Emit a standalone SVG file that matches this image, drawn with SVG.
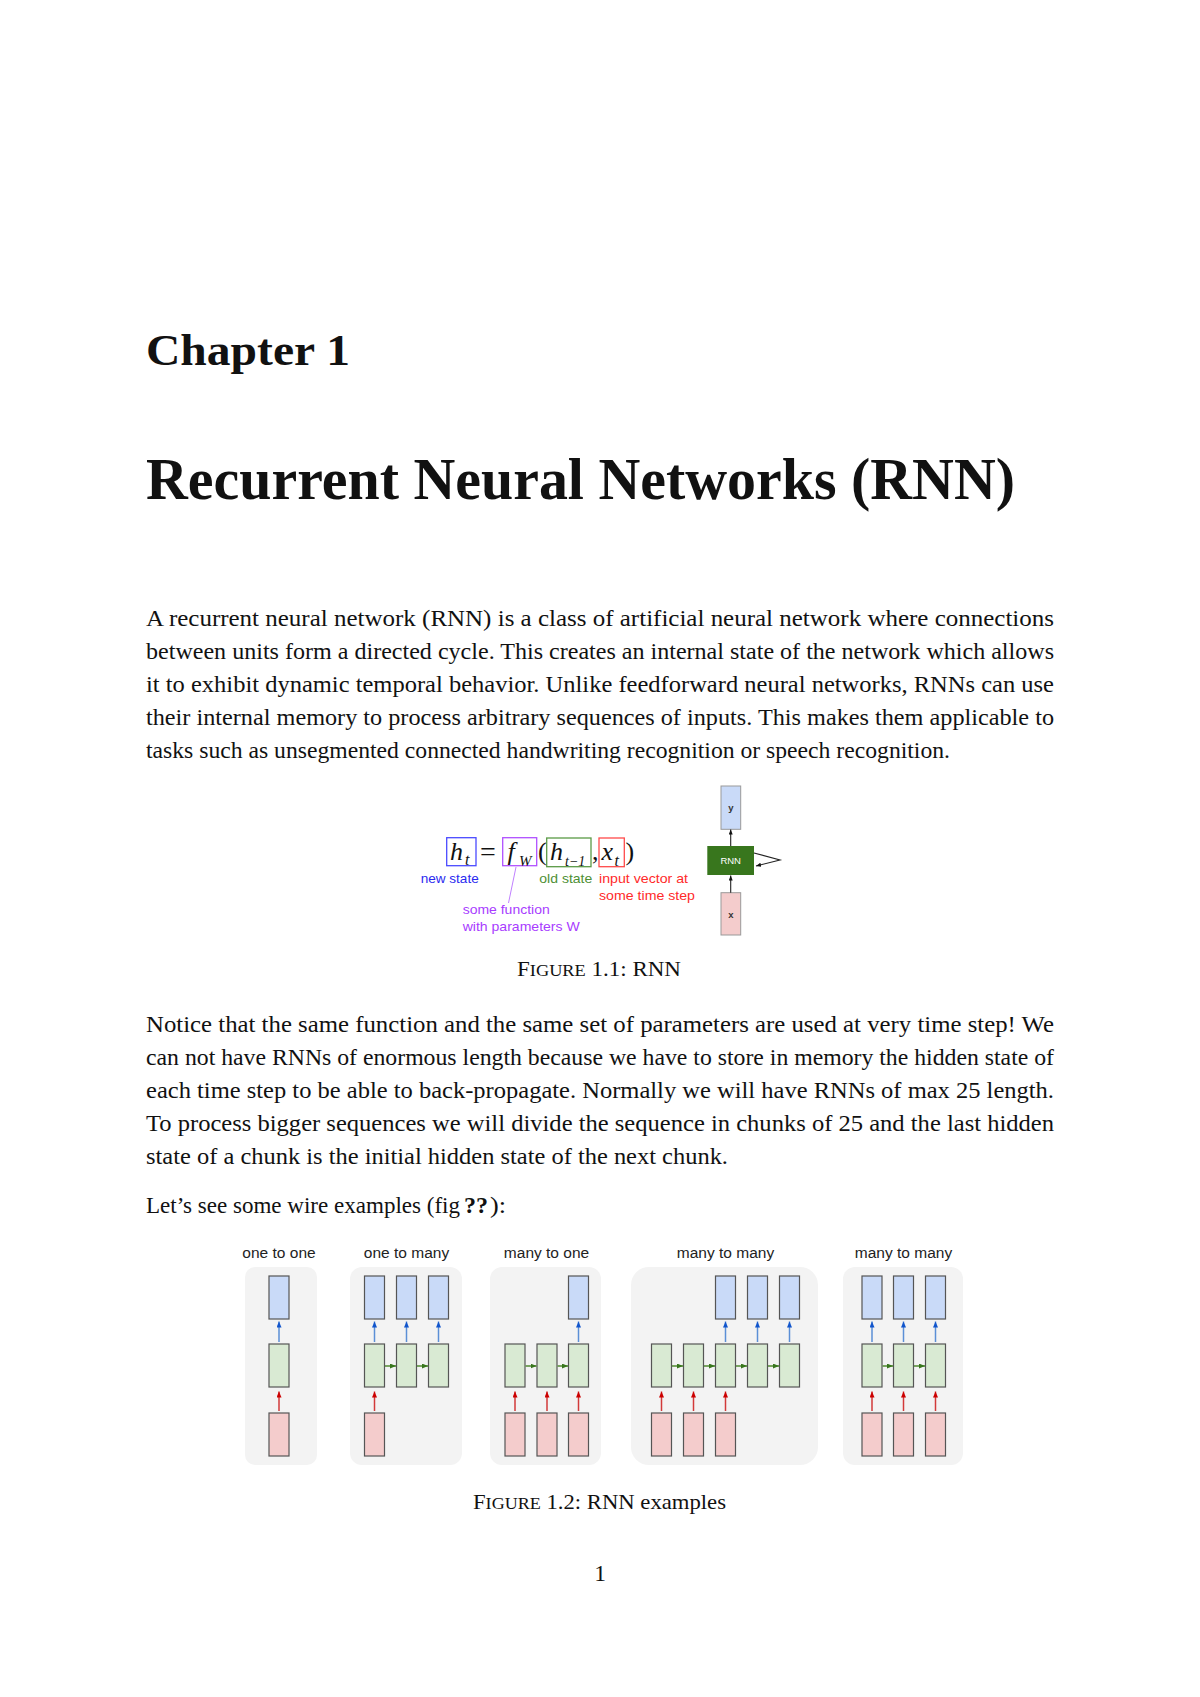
<svg xmlns="http://www.w3.org/2000/svg" width="1200" height="1697" viewBox="0 0 1200 1697">
<defs>
<style>
.body{font-family:"Liberation Serif","Times New Roman",serif;font-size:23.5px;fill:#111}
.head{font-family:"Liberation Serif","Times New Roman",serif;font-weight:bold;fill:#111}
.cap{font-family:"Liberation Serif","Times New Roman",serif;font-size:22px;fill:#111}
.math{font-family:"Liberation Serif","Times New Roman",serif;font-style:italic;fill:#111}
.mathr{font-family:"Liberation Serif","Times New Roman",serif;fill:#111}
.lbl{font-family:"Liberation Sans",Arial,sans-serif;font-size:13.5px}
.plbl{font-family:"Liberation Sans",Arial,sans-serif;font-size:15.5px;fill:#222;text-anchor:middle}
.panel{fill:#f3f3f3}
.bx{fill:#c9daf8;stroke:#555;stroke-width:1.2}
.gx{fill:#d9ead3;stroke:#555;stroke-width:1.2}
.rx{fill:#f4cccc;stroke:#555;stroke-width:1.2}
.ba{stroke:#5b8fd6;stroke-width:1.5;fill:none;marker-end:url(#hb)}
.ra{stroke:#d23a3a;stroke-width:1.5;fill:none;marker-end:url(#hr)}
.ga{stroke:#4f8a2f;stroke-width:1.5;fill:none;marker-end:url(#hg)}
.ka{stroke:#222;stroke-width:1.1;fill:none;marker-end:url(#hk)}
</style>
<marker id="hb" markerUnits="userSpaceOnUse" markerWidth="7" markerHeight="6" refX="6" refY="2.5" orient="auto"><path d="M0,0 L6,2.5 L0,5 z" fill="#1155cc"/></marker>
<marker id="hr" markerUnits="userSpaceOnUse" markerWidth="7" markerHeight="6" refX="6" refY="2.5" orient="auto"><path d="M0,0 L6,2.5 L0,5 z" fill="#cc0000"/></marker>
<marker id="hg" markerUnits="userSpaceOnUse" markerWidth="7" markerHeight="6" refX="6" refY="2.5" orient="auto"><path d="M0,0 L6,2.5 L0,5 z" fill="#38761d"/></marker>
<marker id="hk" markerUnits="userSpaceOnUse" markerWidth="7" markerHeight="6" refX="5" refY="2" orient="auto"><path d="M0,0 L5,2 L0,4 z" fill="#111"/></marker>
</defs>
<rect width="1200" height="1697" fill="#fff"/>

<g id="headings">
<text class="head" x="146" y="365" font-size="44" textLength="204" lengthAdjust="spacingAndGlyphs">Chapter 1</text>
<text class="head" x="146" y="499" font-size="59" textLength="869" lengthAdjust="spacingAndGlyphs">Recurrent Neural Networks (RNN)</text>
</g>

<g id="para1" class="body">
<text x="146" y="626" textLength="908" lengthAdjust="spacingAndGlyphs">A recurrent neural network (RNN) is a class of artificial neural network where connections</text>
<text x="146" y="659" textLength="908" lengthAdjust="spacingAndGlyphs">between units form a directed cycle. This creates an internal state of the network which allows</text>
<text x="146" y="692" textLength="908" lengthAdjust="spacingAndGlyphs">it to exhibit dynamic temporal behavior. Unlike feedforward neural networks, RNNs can use</text>
<text x="146" y="725" textLength="908" lengthAdjust="spacingAndGlyphs">their internal memory to process arbitrary sequences of inputs. This makes them applicable to</text>
<text x="146" y="758" textLength="804" lengthAdjust="spacingAndGlyphs">tasks such as unsegmented connected handwriting recognition or speech recognition.</text>
</g>

<g id="fig1">
<g id="eq-ht">
<rect x="446.7" y="837.7" width="29.3" height="28" fill="none" stroke="#4a4aff" stroke-width="1.3"/>
<text class="math" x="450" y="860" font-size="26">h</text>
<text class="math" x="465" y="865" font-size="16">t</text>
</g>
<text class="mathr" x="480" y="861" font-size="28">=</text>
<g id="eq-fw">
<rect x="502.7" y="837.7" width="34" height="28" fill="none" stroke="#b050ff" stroke-width="1.3"/>
<text class="math" x="507.5" y="860" font-size="26">f</text>
<text class="math" x="519" y="865.5" font-size="15">W</text>
</g>
<text class="mathr" x="538" y="860" font-size="26">(</text>
<g id="eq-hprev">
<rect x="546.7" y="838" width="44.3" height="28.7" fill="none" stroke="#5a9a46" stroke-width="1.3"/>
<text class="math" x="550" y="860" font-size="26">h</text>
<text class="math" x="565" y="865.5" font-size="14">t−1</text>
</g>
<text class="mathr" x="592" y="860" font-size="26">,</text>
<g id="eq-xt">
<rect x="599" y="838" width="25.3" height="28.7" fill="none" stroke="#ff4a4a" stroke-width="1.3"/>
<text class="math" x="601.5" y="860" font-size="26">x</text>
<text class="math" x="614.5" y="865.5" font-size="16">t</text>
</g>
<text class="mathr" x="625.5" y="860" font-size="26">)</text>

<text class="lbl" x="420.7" y="883" fill="#2a2af0" textLength="58" lengthAdjust="spacingAndGlyphs">new state</text>
<text class="lbl" x="539.3" y="883" fill="#4e8f35" textLength="53" lengthAdjust="spacingAndGlyphs">old state</text>
<text class="lbl" x="599" y="883" fill="#ff2a2a" textLength="89" lengthAdjust="spacingAndGlyphs">input vector at</text>
<text class="lbl" x="599" y="900" fill="#ff2a2a" textLength="96" lengthAdjust="spacingAndGlyphs">some time step</text>
<text class="lbl" x="462.7" y="914" fill="#a83cff" textLength="87" lengthAdjust="spacingAndGlyphs">some function</text>
<text class="lbl" x="462.7" y="931" fill="#a83cff" textLength="117" lengthAdjust="spacingAndGlyphs">with parameters W</text>
<line x1="516" y1="867" x2="508.5" y2="903" stroke="#c080ff" stroke-width="1"/>

<g id="node-y">
<rect x="721" y="786" width="19.7" height="43.3" fill="#c9daf8" stroke="#999" stroke-width="1"/>
<text x="730.8" y="811" font-family="Liberation Sans, Arial, sans-serif" font-size="9.5" font-weight="bold" fill="#333" text-anchor="middle">y</text>
</g>
<g id="node-rnn">
<rect x="707.3" y="846" width="46.7" height="29" fill="#38761d"/>
<text x="730.7" y="864" font-family="Liberation Sans, Arial, sans-serif" font-size="9.5" fill="#fff" text-anchor="middle">RNN</text>
</g>
<g id="node-x">
<rect x="721" y="892.7" width="19.7" height="42.3" fill="#f4cccc" stroke="#999" stroke-width="1"/>
<text x="730.8" y="918" font-family="Liberation Sans, Arial, sans-serif" font-size="9.5" font-weight="bold" fill="#333" text-anchor="middle">x</text>
</g>
<g id="fig1-connectors">
<line class="ka" x1="730.7" y1="846" x2="730.7" y2="829.5"/>
<line class="ka" x1="730.7" y1="892.7" x2="730.7" y2="875.5"/>
<polyline class="ka" points="754,853 780,860 756,866"/>
</g>
<text class="cap" x="517" y="976" textLength="164" lengthAdjust="spacingAndGlyphs">F<tspan font-size="17.5">IGURE</tspan> 1.1: RNN</text>
</g>

<g id="para2" class="body">
<text x="146" y="1032" textLength="908" lengthAdjust="spacingAndGlyphs">Notice that the same function and the same set of parameters are used at very time step! We</text>
<text x="146" y="1065" textLength="908" lengthAdjust="spacingAndGlyphs">can not have RNNs of enormous length because we have to store in memory the hidden state of</text>
<text x="146" y="1098" textLength="908" lengthAdjust="spacingAndGlyphs">each time step to be able to back-propagate. Normally we will have RNNs of max  25 length.</text>
<text x="146" y="1131" textLength="908" lengthAdjust="spacingAndGlyphs">To process bigger sequences we will divide the sequence in chunks of  25 and the last hidden</text>
<text x="146" y="1164" textLength="582" lengthAdjust="spacingAndGlyphs">state of a chunk is the initial hidden state of the next chunk.</text>
<text x="146" y="1213" textLength="314" lengthAdjust="spacingAndGlyphs">Let’s see some wire examples (fig</text>
<text x="464" y="1213" font-weight="bold" textLength="24" lengthAdjust="spacingAndGlyphs">??</text>
<text x="490" y="1213" textLength="16" lengthAdjust="spacingAndGlyphs">):</text>
</g>

<g id="fig2">
<g id="panel-one-to-one">
<text class="plbl" x="279" y="1258">one to one</text>
<rect class="panel" x="245" y="1267" width="72" height="198" rx="10"/>
<rect class="bx" x="269" y="1276" width="20" height="43"/>
<rect class="gx" x="269" y="1344" width="20" height="43"/>
<rect class="rx" x="269" y="1413" width="20" height="43"/>
</g>
<g id="panel-one-to-many">
<text class="plbl" x="406.5" y="1258">one to many</text>
<rect class="panel" x="350" y="1267" width="112" height="198" rx="12"/>
<rect class="bx" x="364.5" y="1276" width="20" height="43"/>
<rect class="bx" x="396.5" y="1276" width="20" height="43"/>
<rect class="bx" x="428.5" y="1276" width="20" height="43"/>
<rect class="gx" x="364.5" y="1344" width="20" height="43"/>
<rect class="gx" x="396.5" y="1344" width="20" height="43"/>
<rect class="gx" x="428.5" y="1344" width="20" height="43"/>
<rect class="rx" x="364.5" y="1413" width="20" height="43"/>
</g>
<g id="panel-many-to-one">
<text class="plbl" x="546.5" y="1258">many to one</text>
<rect class="panel" x="490" y="1267" width="111" height="198" rx="12"/>
<rect class="bx" x="568.5" y="1276" width="20" height="43"/>
<rect class="gx" x="505" y="1344" width="20" height="43"/>
<rect class="gx" x="537" y="1344" width="20" height="43"/>
<rect class="gx" x="568.5" y="1344" width="20" height="43"/>
<rect class="rx" x="505" y="1413" width="20" height="43"/>
<rect class="rx" x="537" y="1413" width="20" height="43"/>
<rect class="rx" x="568.5" y="1413" width="20" height="43"/>
</g>
<g id="panel-many-to-many-1">
<text class="plbl" x="725.5" y="1258">many to many</text>
<rect class="panel" x="631" y="1267" width="187" height="198" rx="18"/>
<rect class="bx" x="715.5" y="1276" width="20" height="43"/>
<rect class="bx" x="747.5" y="1276" width="20" height="43"/>
<rect class="bx" x="779.5" y="1276" width="20" height="43"/>
<rect class="gx" x="651.5" y="1344" width="20" height="43"/>
<rect class="gx" x="683.5" y="1344" width="20" height="43"/>
<rect class="gx" x="715.5" y="1344" width="20" height="43"/>
<rect class="gx" x="747.5" y="1344" width="20" height="43"/>
<rect class="gx" x="779.5" y="1344" width="20" height="43"/>
<rect class="rx" x="651.5" y="1413" width="20" height="43"/>
<rect class="rx" x="683.5" y="1413" width="20" height="43"/>
<rect class="rx" x="715.5" y="1413" width="20" height="43"/>
</g>
<g id="panel-many-to-many-2">
<text class="plbl" x="903.5" y="1258">many to many</text>
<rect class="panel" x="843" y="1267" width="120" height="198" rx="12"/>
<rect class="bx" x="862" y="1276" width="20" height="43"/>
<rect class="bx" x="893.5" y="1276" width="20" height="43"/>
<rect class="bx" x="925.5" y="1276" width="20" height="43"/>
<rect class="gx" x="862" y="1344" width="20" height="43"/>
<rect class="gx" x="893.5" y="1344" width="20" height="43"/>
<rect class="gx" x="925.5" y="1344" width="20" height="43"/>
<rect class="rx" x="862" y="1413" width="20" height="43"/>
<rect class="rx" x="893.5" y="1413" width="20" height="43"/>
<rect class="rx" x="925.5" y="1413" width="20" height="43"/>
</g>
<g id="fig2-connectors">
<line class="ba" x1="279" y1="1342" x2="279" y2="1321.5"/>
<line class="ra" x1="279" y1="1411" x2="279" y2="1391.5"/>

<line class="ba" x1="374.5" y1="1342" x2="374.5" y2="1321.5"/>
<line class="ba" x1="406.5" y1="1342" x2="406.5" y2="1321.5"/>
<line class="ba" x1="438.5" y1="1342" x2="438.5" y2="1321.5"/>
<line class="ga" x1="385" y1="1366" x2="396" y2="1366"/>
<line class="ga" x1="417" y1="1366" x2="428" y2="1366"/>
<line class="ra" x1="374.5" y1="1411" x2="374.5" y2="1391.5"/>

<line class="ba" x1="578.5" y1="1342" x2="578.5" y2="1321.5"/>
<line class="ga" x1="525.5" y1="1366" x2="536.5" y2="1366"/>
<line class="ga" x1="557.5" y1="1366" x2="568" y2="1366"/>
<line class="ra" x1="515" y1="1411" x2="515" y2="1391.5"/>
<line class="ra" x1="547" y1="1411" x2="547" y2="1391.5"/>
<line class="ra" x1="578.5" y1="1411" x2="578.5" y2="1391.5"/>

<line class="ba" x1="725.5" y1="1342" x2="725.5" y2="1321.5"/>
<line class="ba" x1="757.5" y1="1342" x2="757.5" y2="1321.5"/>
<line class="ba" x1="789.5" y1="1342" x2="789.5" y2="1321.5"/>
<line class="ga" x1="672" y1="1366" x2="683" y2="1366"/>
<line class="ga" x1="704" y1="1366" x2="715" y2="1366"/>
<line class="ga" x1="736" y1="1366" x2="747" y2="1366"/>
<line class="ga" x1="768" y1="1366" x2="779" y2="1366"/>
<line class="ra" x1="661.5" y1="1411" x2="661.5" y2="1391.5"/>
<line class="ra" x1="693.5" y1="1411" x2="693.5" y2="1391.5"/>
<line class="ra" x1="725.5" y1="1411" x2="725.5" y2="1391.5"/>

<line class="ba" x1="872" y1="1342" x2="872" y2="1321.5"/>
<line class="ba" x1="903.5" y1="1342" x2="903.5" y2="1321.5"/>
<line class="ba" x1="935.5" y1="1342" x2="935.5" y2="1321.5"/>
<line class="ga" x1="882.5" y1="1366" x2="893" y2="1366"/>
<line class="ga" x1="914" y1="1366" x2="925" y2="1366"/>
<line class="ra" x1="872" y1="1411" x2="872" y2="1391.5"/>
<line class="ra" x1="903.5" y1="1411" x2="903.5" y2="1391.5"/>
<line class="ra" x1="935.5" y1="1411" x2="935.5" y2="1391.5"/>
</g>
<text class="cap" x="473" y="1509" textLength="253" lengthAdjust="spacingAndGlyphs">F<tspan font-size="17.5">IGURE</tspan> 1.2: RNN examples</text>
</g>

<text class="body" x="600" y="1581" text-anchor="middle">1</text>
</svg>
